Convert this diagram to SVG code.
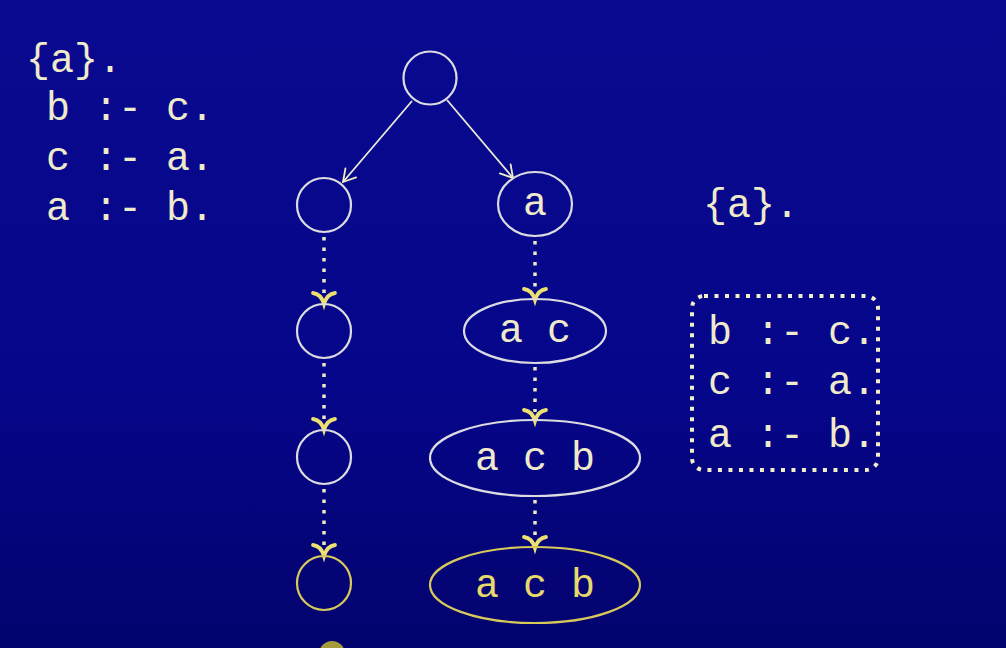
<svg xmlns="http://www.w3.org/2000/svg" width="1006" height="648" viewBox="0 0 1006 648">
<defs>
<linearGradient id="bg" x1="0" y1="0" x2="0" y2="1">
<stop offset="0" stop-color="#0a0a90"/>
<stop offset="0.6" stop-color="#06068a"/>
<stop offset="1" stop-color="#03036e"/>
</linearGradient>
<marker id="thin" viewBox="-14 -9 16 18" markerWidth="16" markerHeight="18" refX="0" refY="0" orient="auto" markerUnits="userSpaceOnUse">
<path d="M-12,-7 L0,0 L-12,7" fill="none" stroke="#f0eec0" stroke-width="1.8" stroke-linecap="round"/>
</marker>
<path id="yhead" d="M-11,-9 Q-3,-8 0,2 Q3,-8 11,-9" fill="none" stroke="#ece070" stroke-width="3.8" stroke-linecap="round"/>
</defs>
<style>
.t{font-family:"Liberation Mono","Courier New",monospace;font-size:40px;fill:#efebca}
.ty{fill:#e6da6a}
.n{fill:none;stroke:#dcdce0;stroke-width:2.2}
.ny{fill:none;stroke:#d8ca5a;stroke-width:2.2}
.dot{stroke:#ece8c4;stroke-width:3.5;stroke-dasharray:3.5 7;fill:none}
.arr{stroke:#ecebd8;stroke-width:1.8;fill:none}
</style>
<rect width="1006" height="648" fill="url(#bg)"/>
<g id="program-left">
<text class="t" x="26" y="72">{a}.</text>
<text class="t" x="46" y="120">b :- c.</text>
<text class="t" x="46" y="170">c :- a.</text>
<text class="t" x="46" y="220">a :- b.</text>
</g>
<g id="program-right">
<text class="t" x="703" y="217">{a}.</text>
<rect x="692" y="296" width="186" height="174" rx="12" fill="none" stroke="#f2eec8" stroke-width="4" stroke-dasharray="4 6.5"/>
<text class="t" x="708" y="344">b :- c.</text>
<text class="t" x="708" y="394">c :- a.</text>
<text class="t" x="708" y="447">a :- b.</text>
</g>
<g id="connectors">
<line class="arr" x1="412" y1="101" x2="343" y2="182" marker-end="url(#thin)"/>
<line class="arr" x1="447" y1="100" x2="513" y2="178" marker-end="url(#thin)"/>
<line class="dot" x1="324" y1="237" x2="324" y2="296"/>
<line class="dot" x1="324" y1="363" x2="324" y2="422"/>
<line class="dot" x1="324" y1="489" x2="324" y2="548"/>
<line class="dot" x1="535" y1="241" x2="535" y2="290"/>
<line class="dot" x1="535" y1="367" x2="535" y2="412"/>
<line class="dot" x1="535" y1="500" x2="535" y2="538"/>
<use href="#yhead" x="324" y="302"/>
<use href="#yhead" x="324" y="428"/>
<use href="#yhead" x="324" y="554"/>
<use href="#yhead" x="535" y="298"/>
<use href="#yhead" x="535" y="419"/>
<use href="#yhead" x="535" y="546"/>
</g>
<g id="root"><circle class="n" cx="430" cy="78" r="26.5"/></g>
<g id="l1"><circle class="n" cx="324" cy="205" r="27"/></g>
<g id="l2"><ellipse class="n" cx="324" cy="331" rx="27" ry="27"/></g>
<g id="l3"><ellipse class="n" cx="324" cy="457" rx="27" ry="27"/></g>
<g id="l4"><ellipse class="ny" cx="324" cy="583" rx="27" ry="27"/></g>
<g id="r1"><ellipse class="n" cx="535" cy="204" rx="37" ry="32"/><text class="t" x="535" y="215" text-anchor="middle">a</text></g>
<g id="r2"><ellipse class="n" cx="535" cy="331" rx="71" ry="32"/><text class="t" x="535" y="342" text-anchor="middle">a c</text></g>
<g id="r3"><ellipse class="n" cx="535" cy="458" rx="105" ry="38"/><text class="t" x="535" y="470" text-anchor="middle">a c b</text></g>
<g id="r4"><ellipse class="ny" cx="535" cy="585" rx="105" ry="38"/><text class="t ty" x="535" y="597" text-anchor="middle">a c b</text></g>
<g id="bottom-dot"><circle cx="332" cy="654" r="13" fill="#a49c3c"/></g>
</svg>
